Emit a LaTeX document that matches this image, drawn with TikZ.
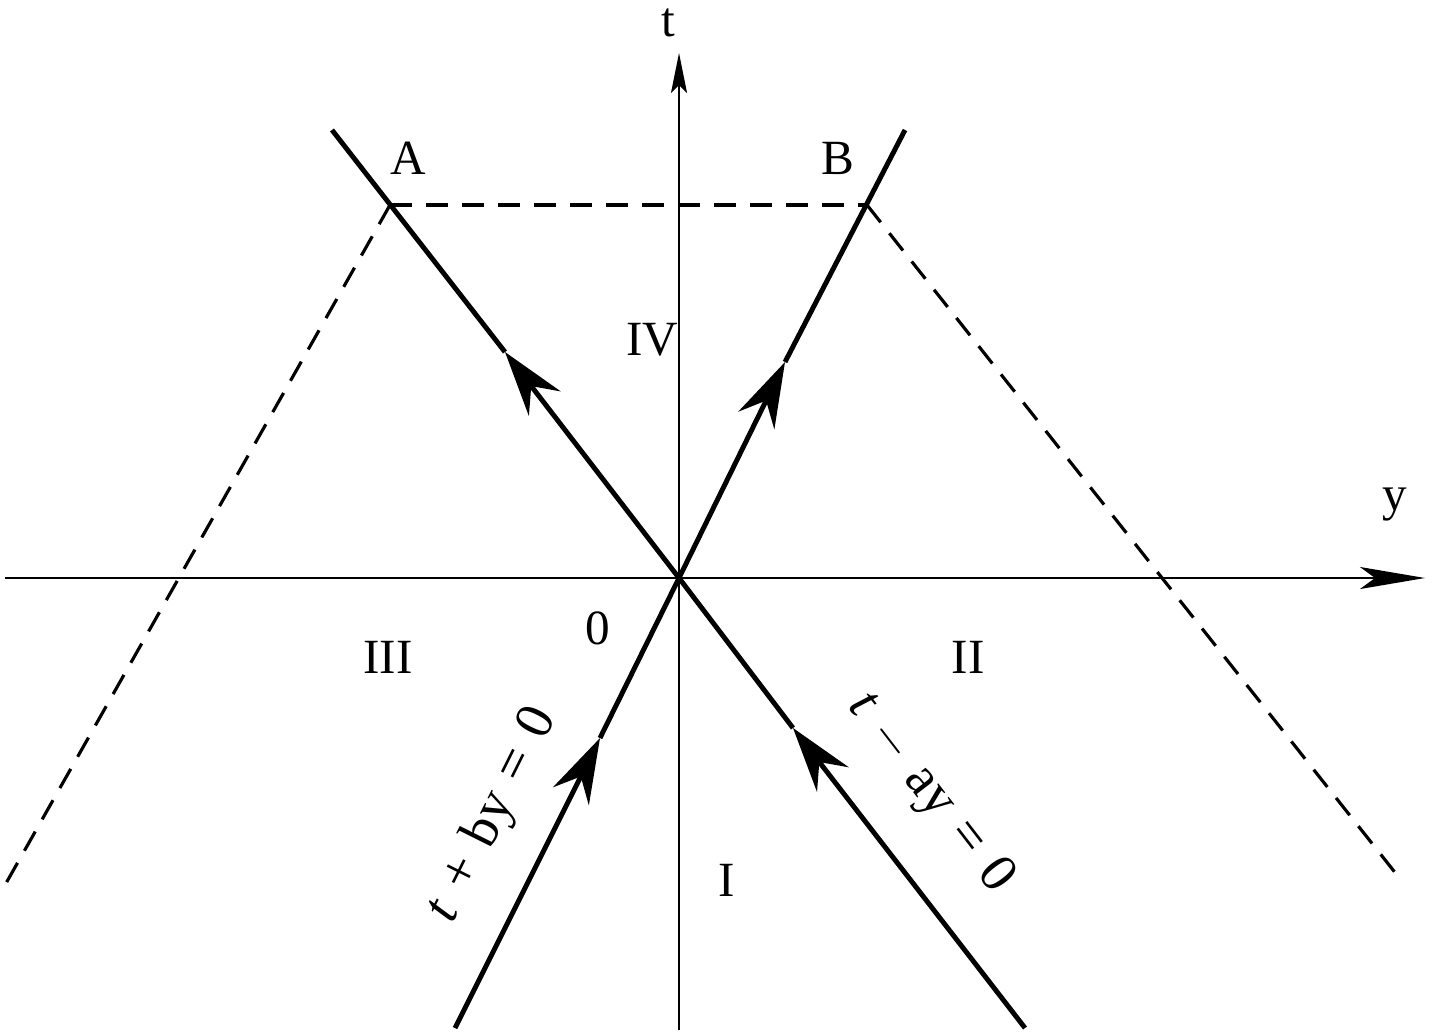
\documentclass[tikz,border=0pt]{standalone}
\usepackage{fontspec}
\setmainfont{Liberation Serif}
\usetikzlibrary{arrows.meta}
\begin{document}
\begin{tikzpicture}[
  thick line/.style={line width=1.4pt},
  axis/.style={line width=0.7pt},
  dashline/.style={line width=0.9pt,dash pattern=on 2.2mm off 1.4mm},
  mid/.style={thick line,-{Stealth[length=6.5mm,width=4mm,inset=2.2mm]}},
  lbl/.style={font=\fontsize{14}{16}\selectfont,inner sep=0pt},
  eq/.style={font=\fontsize{15.5}{18}\selectfont,inner sep=0pt}]
\useasboundingbox (0,0) rectangle (14.33,10.35);
\coordinate (O) at (6.79,4.57);
\coordinate (L1t) at (3.32,9.05);
\coordinate (L1b) at (10.25,0.07);
\coordinate (L2t) at (9.05,9.05);
\coordinate (L2b) at (4.55,0.07);
\coordinate (A) at (3.90,8.30);
\coordinate (B) at (8.67,8.30);
\coordinate (DA) at (0.05,1.50);
\coordinate (DB) at (13.97,1.60);
\coordinate (XL) at (0.05,4.57);
\coordinate (XR) at (14.25,4.57);
\coordinate (TB) at (6.79,0.05);
\coordinate (TT) at (6.79,9.82);
\coordinate (T1) at (5.05,6.83);
\coordinate (T2) at (7.85,6.73);
\coordinate (T3) at (6.00,2.97);
\coordinate (T4) at (7.93,3.07);
% axes
\draw[axis,-{Stealth[length=6.5mm,width=2.2mm,inset=1.5mm]}] (XL) -- (XR);
\draw[axis,-{Stealth[length=4mm,width=1.6mm,inset=0.8mm]}] (TB) -- (TT);
% dashed
\draw[dashline] (A) -- (B);
\draw[dashline] (A) -- (DA);
\draw[dashline] (B) -- (DB);
% main lines
\draw[mid] (O) -- (T1);
\draw[thick line] (T1) -- (L1t);
\draw[mid] (O) -- (T2);
\draw[thick line] (T2) -- (L2t);
\draw[mid] (L2b) -- (T3);
\draw[thick line] (T3) -- (O);
\draw[mid] (L1b) -- (T4);
\draw[thick line] (T4) -- (O);
% labels
\node[lbl] (lt) at (6.68,10.12) {t};
\node[lbl] (ly) at (13.95,5.30) {y};
\node[lbl] (lA) at (4.08,8.77) {A};
\node[lbl] (lB) at (8.38,8.77) {B};
\node[lbl] (lIV) at (6.52,6.95) {IV};
\node[lbl] (l0) at (5.98,4.07) {0};
\node[lbl] (lIII) at (3.88,3.78) {III};
\node[lbl] (lII) at (9.68,3.78) {II};
\node[lbl] (lI) at (7.27,1.55) {I};
\node[eq,rotate=63.5] (e1) at (4.93,2.20) {\textit{t}\,\,+\,\,by\,\,=\,\,0};
\node[eq,rotate=-52.4] (e2) at (9.30,2.42) {\textit{t}\,\,$-$\,\,ay\,\,=\,\,0};
\end{tikzpicture}
\end{document}
